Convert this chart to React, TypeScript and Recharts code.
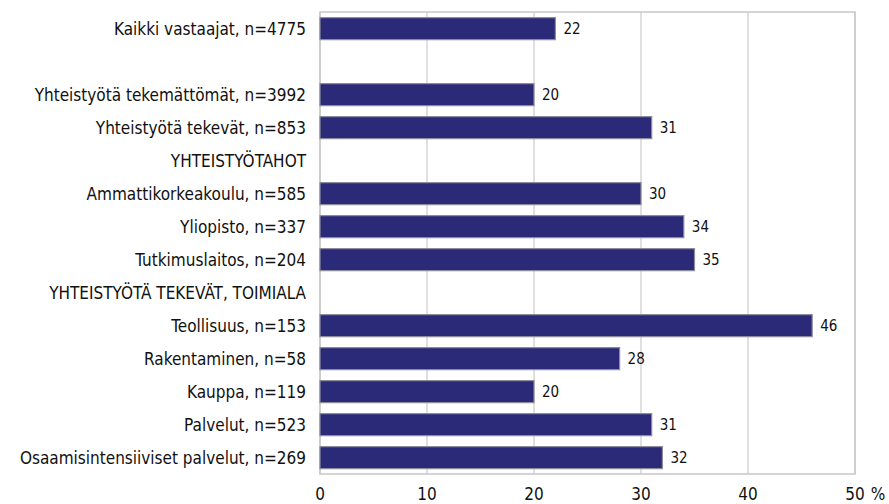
import React from 'react'
import {
  BarChart,
  Bar,
  XAxis,
  YAxis,
  CartesianGrid,
  LabelList,
  ReferenceArea
} from 'recharts'

const CATEGORIES = [
  'Kaikki vastaajat, n=4775',
  '',
  'Yhteistyötä tekemättömät, n=3992',
  'Yhteistyötä tekevät, n=853',
  'YHTEISTYÖTAHOT',
  'Ammattikorkeakoulu, n=585',
  'Yliopisto, n=337',
  'Tutkimuslaitos, n=204',
  'YHTEISTYÖTÄ TEKEVÄT, TOIMIALA',
  'Teollisuus, n=153',
  'Rakentaminen, n=58',
  'Kauppa, n=119',
  'Palvelut, n=523',
  'Osaamisintensiiviset palvelut, n=269'
]

const VALUES = [22, null, 20, 31, null, 30, 34, 35, null, 46, 28, 20, 31, 32]

const X_TICKS = [0, 10, 20, 30, 40, 50]

const FONT = '"Liberation Sans Narrow", "DejaVu Sans Condensed", sans-serif'

const data = CATEGORIES.map((name, i) => ({ name, value: VALUES[i] }))

function XTick(props: any) {
  const { x, y, payload } = props
  return (
    <g>
      <text x={x} y={y + 18} textAnchor="middle" fill="#111" fontSize={17} fontFamily={FONT}>
        {payload.value}
      </text>
      {payload.value === 50 && (
        <text x={x + 23} y={y + 18} textAnchor="middle" fill="#111" fontSize={17} fontFamily={FONT}>
          %
        </text>
      )}
    </g>
  )
}

export default function App() {
  return (
    <div style={{ position: 'absolute', left: 0, top: 0, background: '#fff' }}>
      <BarChart
        width={889}
        height={504}
        data={data}
        layout="vertical"
        margin={{ top: 12, right: 34, left: 0, bottom: 0 }}
        barCategoryGap="17%"
      >
        <CartesianGrid horizontal={false} stroke="#d6d6d6" strokeWidth={1.5} />
        <ReferenceArea x1={0} x2={50} fill="none" stroke="#c8c8c8" strokeWidth={1.5} ifOverflow="visible" />
        <XAxis
          type="number"
          domain={[0, 50]}
          ticks={X_TICKS}
          axisLine={false}
          tickLine={false}
          height={30}
          tick={<XTick />}
        />
        <YAxis
          type="category"
          dataKey="name"
          width={320}
          axisLine={false}
          tickLine={false}
          tickMargin={8}
          interval={0}
          tick={{ fill: '#111', fontSize: 17, fontFamily: FONT }}
        />
        <Bar
          dataKey="value"
          fill="#2a2a78"
          stroke="#8c8c9c"
          strokeWidth={1.2}
          isAnimationActive={false}
        >
          <LabelList
            dataKey="value"
            position="right"
            offset={8}
            fill="#111"
            fontSize={15}
            fontFamily={FONT}
          />
        </Bar>
      </BarChart>
    </div>
  )
}
